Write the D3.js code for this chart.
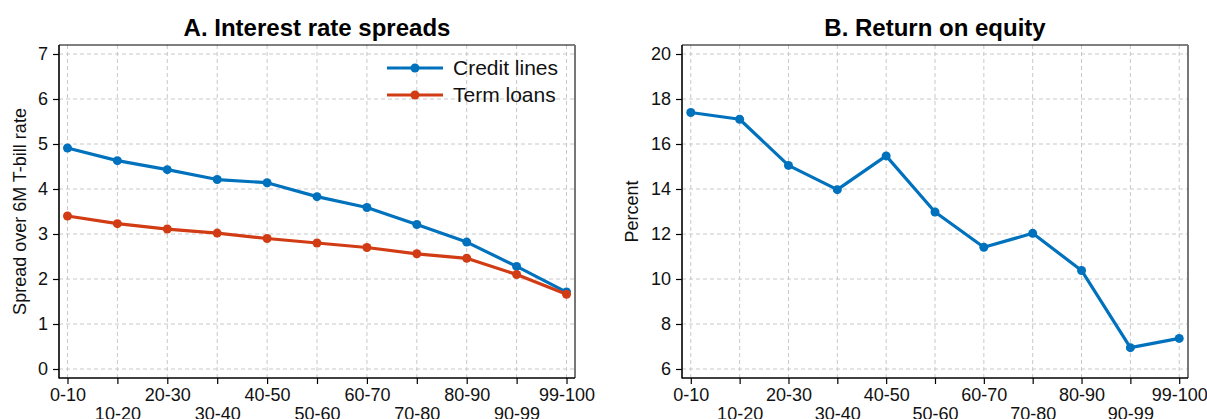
<!DOCTYPE html>
<html>
<head>
<meta charset="utf-8">
<script src="https://cdn.jsdelivr.net/npm/d3@7"></script>
<style>
  body { margin: 0; background: #fff; }
  svg { display: block; font-family: "Liberation Sans", Arial, Helvetica, sans-serif; }
</style>
</head>
<body>
<svg id="chart" width="1207" height="419"></svg>
<script>
// Data
const categories = ['0-10', '10-20', '20-30', '30-40', '40-50', '50-60', '60-70', '70-80', '80-90', '90-99', '99-100'];
const creditLines = [4.91, 4.63, 4.43, 4.21, 4.14, 3.83, 3.59, 3.21, 2.82, 2.28, 1.71];
const termLoans = [3.40, 3.23, 3.11, 3.02, 2.90, 2.80, 2.70, 2.56, 2.46, 2.10, 1.66];
const returnOnEquity = [17.40, 17.10, 15.05, 13.97, 15.47, 12.98, 11.41, 12.03, 10.38, 6.95, 7.36];
const spreadTicks = [0, 1, 2, 3, 4, 5, 6, 7];
const roeTicks = [6, 8, 10, 12, 14, 16, 18, 20];

const BLUE = '#0072bd';
const RED = '#d13c15';
const GRID = '#c8c8c8';

const svg = d3.select('#chart');

function drawPanel(cfg) {
    const { left, right, top, bottom } = cfg.box;
    const g = svg.append('g');

    const x = d3.scalePoint()
        .domain(categories)
        .range([left, right])
        .padding(cfg.pad);

    const y = d3.scaleLinear()
        .domain(cfg.yDomain)
        .range([bottom, top]);

    // grid
    g.append('g')
        .selectAll('line')
        .data(categories)
        .join('line')
        .attr('x1', d => x(d)).attr('x2', d => x(d))
        .attr('y1', top).attr('y2', bottom)
        .style('stroke', GRID)
        .style('stroke-width', 1)
        .style('stroke-dasharray', '4,3');

    g.append('g')
        .selectAll('line')
        .data(cfg.yTicks)
        .join('line')
        .attr('x1', left).attr('x2', right)
        .attr('y1', d => y(d)).attr('y2', d => y(d))
        .style('stroke', GRID)
        .style('stroke-width', 1)
        .style('stroke-dasharray', '4,3');

    // y axis
    const yAxis = g.append('g')
        .attr('transform', `translate(${left},0)`)
        .call(d3.axisLeft(y).tickValues(cfg.yTicks).tickSize(6).tickPadding(5).tickFormat(d3.format('d')));
    yAxis.select('.domain').remove();
    yAxis.selectAll('.tick line').style('stroke', '#000').style('stroke-width', 1.2);
    yAxis.selectAll('.tick text')
        .style('font-size', '18px')
        .style('font-family', '"Liberation Sans", Arial, sans-serif')
        .style('fill', '#111');

    // x axis, labels staggered on two rows
    const xAxis = g.append('g')
        .attr('transform', `translate(0,${bottom})`)
        .call(d3.axisBottom(x).tickSize(6).tickPadding(6));
    xAxis.select('.domain').remove();
    xAxis.selectAll('.tick line').style('stroke', '#000').style('stroke-width', 1.2);
    xAxis.selectAll('.tick text')
        .attr('dy', null)
        .attr('y', (d, i) => i % 2 === 0 ? 23 : 41.5)
        .style('font-size', '18px')
        .style('font-family', '"Liberation Sans", Arial, sans-serif')
        .style('fill', '#111');

    // frame
    g.append('line').attr('x1', left).attr('x2', right).attr('y1', top).attr('y2', top)
        .style('stroke', '#000').style('stroke-width', 1.2);
    g.append('line').attr('x1', right).attr('x2', right).attr('y1', top).attr('y2', bottom)
        .style('stroke', '#777').style('stroke-width', 2);
    g.append('line').attr('x1', left).attr('x2', left).attr('y1', top).attr('y2', bottom + 0.5)
        .style('stroke', '#000').style('stroke-width', 1.6);
    g.append('line').attr('x1', left).attr('x2', right).attr('y1', bottom).attr('y2', bottom)
        .style('stroke', '#000').style('stroke-width', 1.6);

    // series
    const line = d3.line()
        .x((d, i) => x(categories[i]))
        .y(d => y(d));

    cfg.series.forEach(s => {
        g.append('path')
            .datum(s.values)
            .attr('d', line)
            .style('fill', 'none')
            .style('stroke', s.color)
            .style('stroke-width', 3.2)
            .style('stroke-linejoin', 'round');

        g.append('g')
            .selectAll('circle')
            .data(s.values)
            .join('circle')
            .attr('cx', (d, i) => x(categories[i]))
            .attr('cy', d => y(d))
            .attr('r', 4.5)
            .style('fill', s.color);
    });

    // title
    svg.append('text')
        .attr('x', (left + right) / 2)
        .attr('y', 36)
        .attr('text-anchor', 'middle')
        .style('font-size', '24px')
        .style('font-weight', 'bold')
        .style('fill', '#000')
        .text(cfg.title);

    // y label
    svg.append('text')
        .attr('transform', `translate(${cfg.yLabelX},${(top + bottom) / 2}) rotate(-90)`)
        .attr('text-anchor', 'middle')
        .style('font-size', '18px')
        .style('fill', '#111')
        .text(cfg.yLabel);

    return { x, y, g };
}

drawPanel({
    box: { left: 59, right: 575, top: 45, bottom: 378 },
    pad: 0.17,
    yDomain: [-0.2, 7.2],
    yTicks: spreadTicks,
    title: 'A. Interest rate spreads',
    yLabel: 'Spread over 6M T-bill rate',
    yLabelX: 26,
    series: [
        { name: 'Credit lines', values: creditLines, color: BLUE },
        { name: 'Term loans', values: termLoans, color: RED }
    ]
});

drawPanel({
    box: { left: 682, right: 1188, top: 45, bottom: 378 },
    pad: 0.18,
    yDomain: [5.6, 20.4],
    yTicks: roeTicks,
    title: 'B. Return on equity',
    yLabel: 'Percent',
    yLabelX: 638,
    series: [
        { name: 'Return on equity', values: returnOnEquity, color: BLUE }
    ]
});

// legend for panel A
const legendItems = [
    { name: 'Credit lines', color: BLUE },
    { name: 'Term loans', color: RED }
];
const legend = svg.append('g').attr('transform', 'translate(387,68)');
legendItems.forEach((item, i) => {
    const row = legend.append('g').attr('transform', `translate(0,${i * 27})`);
    row.append('line')
        .attr('x1', 0).attr('x2', 56)
        .attr('y1', 0).attr('y2', 0)
        .style('stroke', item.color)
        .style('stroke-width', 3.2);
    row.append('circle')
        .attr('cx', 28).attr('cy', 0).attr('r', 4.5)
        .style('fill', item.color);
    row.append('text')
        .attr('x', 66)
        .attr('y', 0)
        .attr('dy', '0.35em')
        .style('font-size', '21px')
        .style('fill', '#111')
        .text(item.name);
});
</script>
</body>
</html>
